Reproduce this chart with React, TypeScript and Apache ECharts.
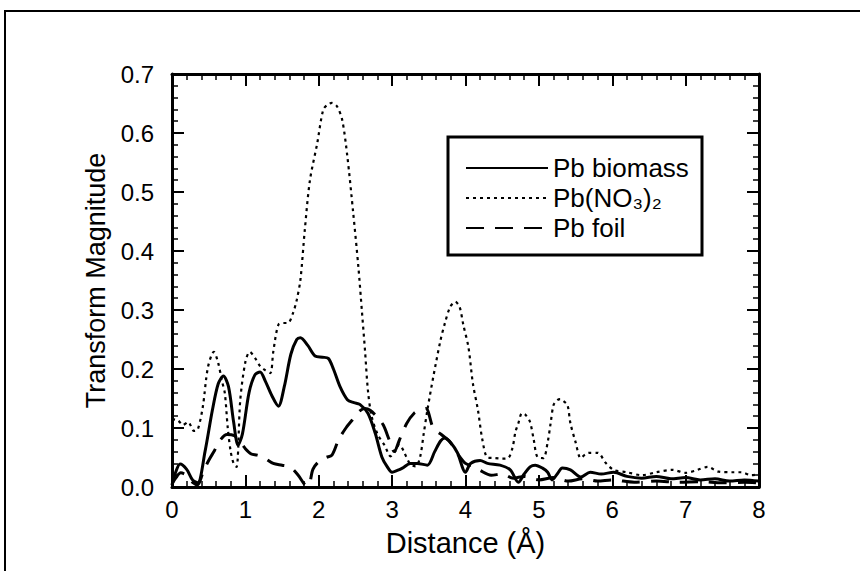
import React, { useEffect, useRef } from 'react';
import * as echarts from 'echarts';

const seriesNames = ['Pb biomass', 'Pb(NO₃)₂', 'Pb foil'];

const biomassX = [0, 0.05, 0.11, 0.2, 0.28, 0.35, 0.45, 0.55, 0.63, 0.7, 0.77, 0.84, 0.9, 0.96, 1.05, 1.13, 1.2, 1.27, 1.36, 1.45, 1.53, 1.62, 1.7, 1.75, 1.85, 1.95, 2.05, 2.13, 2.2, 2.29, 2.39, 2.48, 2.56, 2.67, 2.77, 2.86, 2.93, 3.0, 3.07, 3.14, 3.25, 3.34, 3.48, 3.58, 3.66, 3.72, 3.8, 3.89, 4.0, 4.07, 4.2, 4.3, 4.47, 4.61, 4.72, 4.8, 4.88, 4.95, 5.05, 5.12, 5.18, 5.25, 5.32, 5.43, 5.57, 5.7, 5.85, 6.02, 6.2, 6.4, 6.6, 6.8, 7.0, 7.2, 7.4, 7.6, 7.8, 8.0];
const biomassY = [0.003, 0.025, 0.039, 0.03, 0.012, 0.007, 0.06, 0.13, 0.175, 0.188, 0.17, 0.11, 0.071, 0.09, 0.16, 0.19, 0.195, 0.18, 0.155, 0.137, 0.17, 0.225, 0.25, 0.253, 0.24, 0.222, 0.22, 0.218, 0.2, 0.17, 0.148, 0.143, 0.14, 0.125, 0.091, 0.051, 0.035, 0.025, 0.028, 0.032, 0.04, 0.04, 0.037, 0.06, 0.078, 0.083, 0.075, 0.058, 0.025, 0.04, 0.045, 0.04, 0.037, 0.029, 0.008, 0.022, 0.034, 0.037, 0.032, 0.025, 0.012, 0.022, 0.032, 0.029, 0.017, 0.025, 0.022, 0.025, 0.018, 0.015, 0.018, 0.014, 0.016, 0.012, 0.014, 0.01, 0.012, 0.01];

const nitrateX = [0, 0.08, 0.15, 0.22, 0.3, 0.35, 0.42, 0.49, 0.57, 0.63, 0.68, 0.72, 0.76, 0.8, 0.84, 0.88, 0.93, 1.0, 1.06, 1.13, 1.2, 1.27, 1.34, 1.38, 1.45, 1.52, 1.58, 1.65, 1.7, 1.75, 1.81, 1.88, 1.98, 2.06, 2.12, 2.18, 2.25, 2.32, 2.39, 2.47, 2.54, 2.59, 2.63, 2.67, 2.72, 2.8, 2.9, 2.98, 3.04, 3.1, 3.16, 3.24, 3.32, 3.38, 3.43, 3.48, 3.56, 3.66, 3.72, 3.79, 3.86, 3.92, 3.97, 4.04, 4.1, 4.17, 4.23, 4.3, 4.4, 4.5, 4.58, 4.64, 4.68, 4.72, 4.77, 4.82, 4.88, 4.93, 4.98, 5.06, 5.12, 5.16, 5.2, 5.25, 5.29, 5.34, 5.39, 5.43, 5.5, 5.57, 5.63, 5.68, 5.8, 5.91, 6.02, 6.2, 6.4, 6.6, 6.82, 7.0, 7.16, 7.3, 7.45, 7.64, 7.75, 7.9, 8.0];
const nitrateY = [0.115, 0.113, 0.105, 0.11, 0.095, 0.097, 0.136, 0.203, 0.229, 0.21, 0.18, 0.159, 0.1, 0.06, 0.04, 0.034, 0.147, 0.212, 0.229, 0.219, 0.205, 0.198, 0.193, 0.229, 0.275, 0.278, 0.278, 0.295, 0.317, 0.351, 0.436, 0.52, 0.583, 0.639, 0.648, 0.651, 0.645, 0.622, 0.56, 0.464, 0.373, 0.295, 0.232, 0.164, 0.12, 0.09, 0.07, 0.052, 0.06, 0.072, 0.06, 0.04, 0.035, 0.05, 0.09, 0.13, 0.186, 0.249, 0.278, 0.305, 0.314, 0.305, 0.275, 0.237, 0.176, 0.13, 0.08, 0.05, 0.049, 0.048, 0.049, 0.066, 0.093, 0.108, 0.125, 0.122, 0.11, 0.08, 0.051, 0.049, 0.076, 0.108, 0.139, 0.147, 0.149, 0.145, 0.139, 0.108, 0.076, 0.049, 0.055, 0.058, 0.058, 0.041, 0.029, 0.025, 0.02, 0.025, 0.029, 0.024, 0.029, 0.034, 0.026, 0.025, 0.025, 0.02, 0.022];

const foilX = [0, 0.05, 0.12, 0.2, 0.28, 0.35, 0.42, 0.5, 0.58, 0.66, 0.75, 0.85, 0.92, 1.0, 1.08, 1.16, 1.25, 1.38, 1.5, 1.61, 1.72, 1.81, 1.86, 1.92, 2.0, 2.1, 2.18, 2.27, 2.37, 2.46, 2.55, 2.63, 2.7, 2.8, 2.88, 2.96, 3.03, 3.1, 3.2, 3.3, 3.38, 3.46, 3.56, 3.66, 3.79, 3.9, 4.0, 4.1, 4.2, 4.35, 4.5, 4.65, 4.8, 5.0, 5.2, 5.4, 5.6, 5.8, 6.0, 6.3, 6.6, 6.9, 7.2, 7.5, 7.8, 8.0];
const foilY = [0.005, 0.015, 0.024, 0.02, 0.008, 0.004, 0.024, 0.045, 0.062, 0.08, 0.089, 0.087, 0.078, 0.065, 0.056, 0.054, 0.05, 0.04, 0.037, 0.034, 0.02, 0.004, 0.002, 0.03, 0.043, 0.05, 0.054, 0.08, 0.1, 0.114, 0.128, 0.133, 0.13, 0.118, 0.105, 0.08, 0.06, 0.08, 0.108, 0.125, 0.13, 0.133, 0.1, 0.09, 0.076, 0.055, 0.04, 0.035, 0.028, 0.02, 0.022, 0.015, 0.018, 0.012, 0.016, 0.01, 0.014, 0.01, 0.012, 0.008, 0.01, 0.008, 0.009, 0.007, 0.008, 0.007];

const xMin = 0, xMax = 8, xStep = 1;
const yMin = 0, yMax = 0.7, yStep = 0.1;

const zip = (xs: number[], ys: number[]) => xs.map((x, i) => [x, ys[i]]);

export default function App() {
  const ref = useRef<HTMLDivElement>(null);
  useEffect(() => {
    const chart = echarts.init(ref.current!, null, { renderer: 'svg' });
    const font = '"Liberation Sans", Arial, Helvetica, sans-serif';
    const black = '#000';
    const base = (showLabel: boolean) => ({
      type: 'value',
      axisLine: { show: true, onZero: false, lineStyle: { color: black, width: 3 } },
      axisTick: { show: true, inside: true, length: 12, lineStyle: { color: black, width: 2 } },
      minorTick: { show: true, splitNumber: 5, length: 6, lineStyle: { color: black, width: 1.5 } },
      splitLine: { show: false },
      minorSplitLine: { show: false },
      axisLabel: { show: showLabel, color: black, fontSize: 24, fontFamily: font },
    });
    chart.setOption({
      animation: false,
      backgroundColor: '#fff',
      grid: { left: 172, right: 101, top: 74, bottom: 84, containLabel: false },
      xAxis: [
        {
          ...base(true), position: 'bottom', min: xMin, max: xMax, interval: xStep,
          axisLabel: { show: true, color: black, fontSize: 24, fontFamily: font, margin: 10 },
          name: 'Distance (Å)', nameLocation: 'middle', nameGap: 41,
          nameTextStyle: { color: black, fontSize: 29, fontFamily: font },
        },
        { ...base(false), position: 'top', min: xMin, max: xMax, interval: xStep },
      ],
      yAxis: [
        {
          ...base(true), position: 'left', min: yMin, max: yMax, interval: yStep,
          axisLabel: { show: true, color: black, fontSize: 24, fontFamily: font, margin: 18, formatter: (v: number) => v.toFixed(1) },
          name: 'Transform Magnitude', nameLocation: 'middle', nameGap: 50,
          nameTextStyle: { color: black, fontSize: 27, fontFamily: font },
        },
        { ...base(false), position: 'right', min: yMin, max: yMax, interval: yStep },
      ],
      legend: {
        orient: 'vertical', left: 465, top: 155, padding: 0,
        itemWidth: 82, itemHeight: 12, itemGap: 4,
        itemStyle: { opacity: 0 },
        textStyle: { color: black, fontSize: 26, fontFamily: font, lineHeight: 24 },
        data: seriesNames,
      },
      graphic: [
        { type: 'rect', shape: { x: 5, y: 11, width: 900, height: 620 }, style: { fill: 'none', stroke: black, lineWidth: 2 }, silent: true },
        { type: 'rect', shape: { x: 448, y: 137, width: 254, height: 118 }, style: { fill: 'none', stroke: black, lineWidth: 3 }, silent: true },
      ],
      series: [
        {
          name: seriesNames[0], type: 'line', data: zip(biomassX, biomassY), symbol: 'none', smooth: 0.3,
          lineStyle: { color: black, width: 3, type: 'solid' }, itemStyle: { color: black },
        },
        {
          name: seriesNames[1], type: 'line', data: zip(nitrateX, nitrateY), symbol: 'none', smooth: 0.3,
          lineStyle: { color: black, width: 2.2, type: [3, 4] }, itemStyle: { color: black },
        },
        {
          name: seriesNames[2], type: 'line', data: zip(foilX, foilY), symbol: 'none', smooth: 0.3,
          lineStyle: { color: black, width: 3, type: [18, 11] }, itemStyle: { color: black },
        },
      ],
    });
    return () => chart.dispose();
  }, []);
  return <div ref={ref} style={{ position: 'absolute', left: 0, top: 0, width: 860, height: 571, background: '#fff' }} />;
}
